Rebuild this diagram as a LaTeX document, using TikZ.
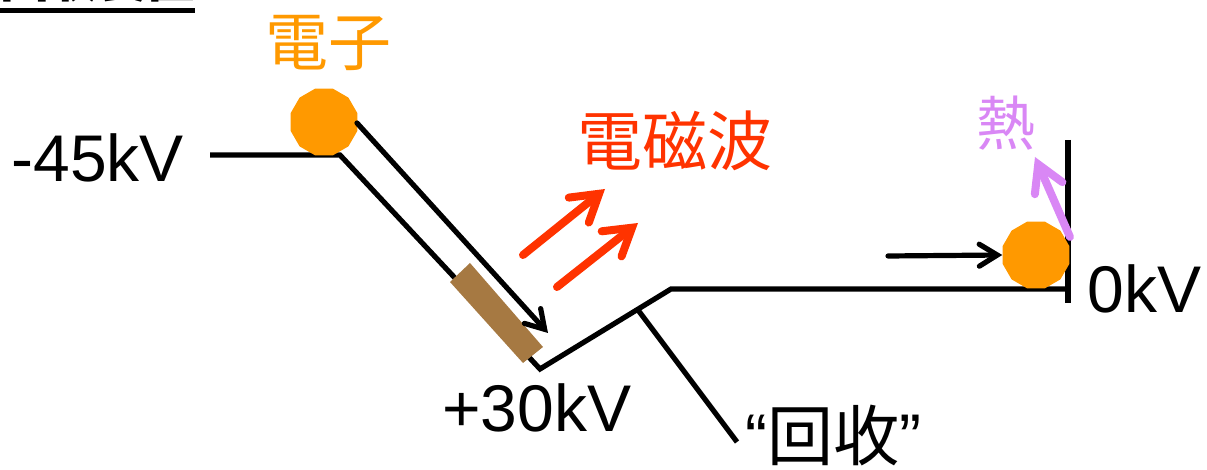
\documentclass[tikz,border=0pt]{standalone}
\usepackage{fontspec}
\setmainfont{Liberation Sans}
\newfontfamily\cjk{Noto Sans CJK JP}
\usetikzlibrary{arrows.meta,shapes.geometric}
\definecolor{eorange}{RGB}{255,153,0}
\definecolor{ered}{RGB}{255,51,0}
\definecolor{epurple}{RGB}{217,135,245}
\definecolor{ebrown}{RGB}{166,121,66}
\begin{document}
\begin{tikzpicture}[x=0.5pt,y=-0.5pt,
  wire/.style={line width=2.6pt},
  blackarrow/.style={line width=2.6pt,line cap=round,-{Straight Barb[length=9pt,width=11pt,line cap=round]}},
  redarrow/.style={ered,line width=4pt,line cap=round,-{Straight Barb[length=13pt,width=16pt,line cap=round]}},
  heatarrow/.style={epurple,line width=4pt,line cap=round,-{Straight Barb[length=13pt,width=15pt,line cap=round]}},
  ball/.style={regular polygon,regular polygon sides=12,fill=eorange,inner sep=0pt,minimum size=34.5pt},
  volt/.style={inner sep=0pt,anchor=base west,font=\fontsize{33pt}{36pt}\selectfont},
  jlabel/.style={inner sep=0pt,anchor=center}]
\useasboundingbox (0,0) rectangle (1207,470);
% title (cut off at top)
\node[inner sep=0pt,anchor=base west,font=\cjk\bfseries\fontsize{24.4pt}{26pt}\selectfont] (title) at (0,-2.5) {回収装置};
\draw[line width=2.6pt] (0,10.5) -- (195,10.5);
% wire
\coordinate (w0) at (210,155);
\coordinate (w1) at (340,155);
\coordinate (w2) at (540,369);
\coordinate (w3) at (671,289);
\coordinate (w4) at (1068,289);
\coordinate (p1) at (1068,140);
\coordinate (p2) at (1068,303);
\coordinate (b0) at (638,310);
\coordinate (b1) at (737,442);
\draw[wire] (w0) -- (w1) -- (w2) -- (w3) -- (w4);
\draw[wire] (p1) -- (p2);
\draw[wire] (b0) -- (b1);
% brown block
\fill[ebrown] (450,282) -- (470,263) -- (543,347) -- (523,363) -- cycle;
% electrons
\node[ball] (e1) at (324,122) {};
\node[ball] (e2) at (1036,255) {};
% electron path arrow
\coordinate (a0) at (357,123);
\coordinate (a1) at (548,333);
\draw[blackarrow] (a0) -- (a1);
\coordinate (c0) at (888,256);
\draw[blackarrow] (c0) -- (e2.west);
% red arrows
\coordinate (r0) at (523,255);
\coordinate (r1) at (605,189);
\coordinate (r2) at (557,287);
\coordinate (r3) at (638,223);
\draw[redarrow] (r0) -- (r1);
\draw[redarrow] (r2) -- (r3);
% heat arrow
\coordinate (h0) at (1070,237);
\coordinate (h1) at (1035,157);
\draw[heatarrow] (h0) -- (h1);
% labels
\node[volt] (vm45) at (11,182) {-45kV};
\node[volt] (vp30) at (442,432) {+30kV};
\node[volt] (v0) at (1087,313) {0kV};
\node[jlabel,text=eorange,font=\cjk\fontsize{31.5pt}{34pt}\selectfont] (lab1) at (328,43) {電子};
\node[jlabel,text=ered,font=\cjk\fontsize{32.5pt}{35pt}\selectfont] (lab2) at (675,141) {電磁波};
\node[jlabel,text=epurple,font=\cjk\fontsize{29.5pt}{32pt}\selectfont] (lab3) at (1006,123) {熱};
\node[jlabel,font=\fontsize{33pt}{36pt}\selectfont] (lab4) at (833,436) {“{\cjk 回收}”};
\end{tikzpicture}
\end{document}
